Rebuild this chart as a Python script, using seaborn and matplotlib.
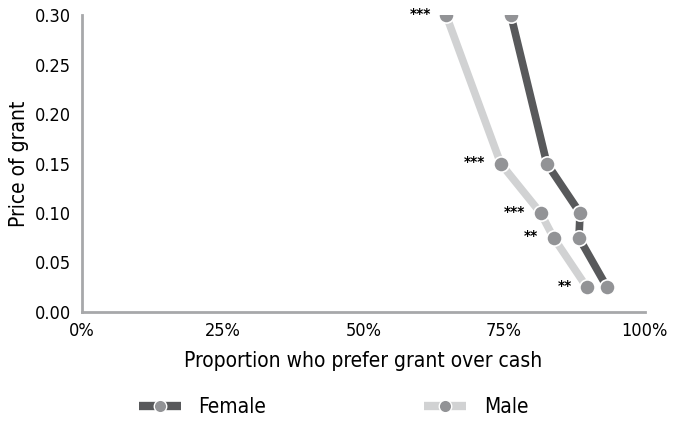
import matplotlib
matplotlib.use("Agg")
import matplotlib.pyplot as plt
from matplotlib.lines import Line2D
import seaborn as sns
import pandas as pd

price = [0.30, 0.15, 0.10, 0.075, 0.025]
female = [0.762, 0.826, 0.885, 0.883, 0.933]
male = [0.647, 0.744, 0.815, 0.838, 0.897]
stars = ["***", "***", "***", "**", "**"]
groups = ["Female", "Male"]
xticks = [0, 0.25, 0.5, 0.75, 1.0]
xticklabels = ["0%", "25%", "50%", "75%", "100%"]
yticks = [0.0, 0.05, 0.10, 0.15, 0.20, 0.25, 0.30]

df = pd.DataFrame({
    "price": price * 2,
    "prop": female + male,
    "group": ["Female"] * len(price) + ["Male"] * len(price),
})

sns.set_theme(style="white")
plt.rcParams["font.family"] = ["DejaVu Sans"]
plt.rcParams["font.stretch"] = "condensed"
plt.rcParams["text.color"] = "black"
plt.rcParams["axes.labelcolor"] = "black"
plt.rcParams["xtick.color"] = "black"
plt.rcParams["ytick.color"] = "black"

line_colors = {"Female": "#58595b", "Male": "#d1d2d3"}
marker_color = "#929396"
axis_color = "#a7a8aa"

fig = plt.figure(figsize=(6.78, 4.21), dpi=100)
ax = fig.add_axes([0.121, 0.259, 0.830, 0.705])

sns.lineplot(data=df, x="prop", y="price", hue="group", palette=line_colors,
             linewidth=5.5, sort=False, legend=False, ax=ax, estimator=None)
sns.scatterplot(data=df, x="prop", y="price", color=marker_color, s=120,
                edgecolor="white", linewidth=1.2, legend=False, ax=ax, zorder=5)

for x, y, s in zip(male, price, stars):
    ax.annotate(s, (x, y), xytext=(-11, 1), textcoords="offset points",
                ha="right", va="center", fontsize=10, fontweight="bold",
                fontstretch="normal", color="black")

ax.set_xlim(0, 1.0)
ax.set_ylim(0, 0.30)
ax.set_xticks(xticks)
ax.set_xticklabels(xticklabels)
ax.set_yticks(yticks)
ax.set_yticklabels([f"{t:.2f}" for t in yticks])
ax.tick_params(axis="y", direction="in", length=9, width=2, color=axis_color,
               labelsize=13, labelcolor="black", pad=8)
ax.tick_params(axis="x", length=0, labelsize=13, labelcolor="black", pad=7)
for sp in ["top", "right"]:
    ax.spines[sp].set_visible(False)
for sp in ["left", "bottom"]:
    ax.spines[sp].set_color(axis_color)
    ax.spines[sp].set_linewidth(2)
ax.set_xlabel("Proportion who prefer grant over cash", fontsize=15, labelpad=8)
ax.set_ylabel("Price of grant", fontsize=15, labelpad=4)

handles = [Line2D([0], [0], color=line_colors[g], linewidth=6, marker="o",
                  markersize=9, markerfacecolor=marker_color,
                  markeredgecolor="white", markeredgewidth=1.0,
                  solid_capstyle="butt") for g in groups]
fig.legend(handles, groups, loc="center", bbox_to_anchor=(0.492, 0.033), ncol=2,
           frameon=False, fontsize=15, handlelength=2.0, columnspacing=7.6,
           handletextpad=0.85)

fig.savefig("out.png", dpi=100)
